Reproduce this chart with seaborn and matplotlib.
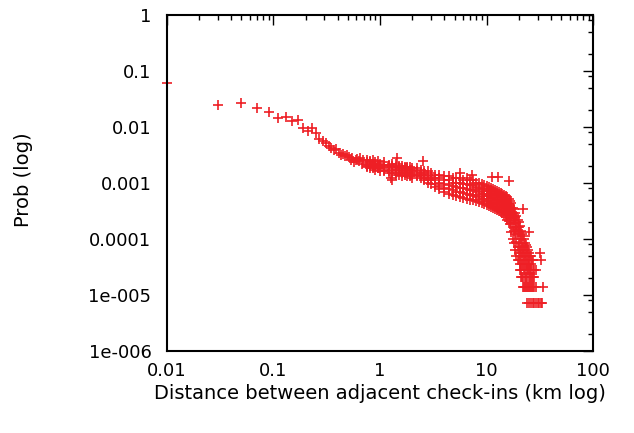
import matplotlib
matplotlib.use("Agg")
import matplotlib.pyplot as plt
import matplotlib.ticker as mticker
import pandas as pd
import seaborn as sns

# short distances, one bin per 0.02 km (km, probability)
head_dist = [0.01, 0.03, 0.05, 0.07, 0.09, 0.11, 0.13, 0.15, 0.17, 0.19, 0.21, 0.23,
             0.25, 0.27, 0.29, 0.31, 0.33, 0.35, 0.37, 0.39, 0.41, 0.43, 0.45, 0.47,
             0.49, 0.51, 0.53, 0.55, 0.57, 0.59, 0.61, 0.63, 0.65, 0.67, 0.69]
head_prob = [0.061, 0.0244, 0.0262, 0.0213, 0.0181, 0.0141, 0.0147, 0.0126, 0.0132, 0.0096,
             0.0085, 0.0094, 0.0078, 0.0060, 0.0056, 0.0051, 0.0046, 0.0042, 0.0038, 0.0040,
             0.0034, 0.0031, 0.0033, 0.0030, 0.0031, 0.0029, 0.0025, 0.0028, 0.0023, 0.0025,
             0.0026, 0.0024, 0.0028, 0.0022, 0.0025]

band_dist = [0.75, 0.8, 0.85, 0.9, 0.95, 1.0, 1.1, 1.2, 1.3, 1.4, 1.5, 1.6, 1.7, 1.8, 1.9,
             2.0, 2.2, 2.4, 2.6, 2.8, 3.0, 3.3, 3.6, 4.0, 4.4, 4.8, 5.2, 5.6, 6.0, 6.5,
             7.0, 7.5, 8.0, 8.5, 9.0, 9.5, 10, 10.5, 11, 11.5, 12, 12.5, 13, 13.5, 14,
             14.5, 15, 15.5, 16, 16.5]
band_top = [0.0025, 0.0024, 0.0025, 0.0023, 0.0024, 0.0022, 0.0023, 0.0021, 0.0022, 0.0022,
            0.0020, 0.0020, 0.0019, 0.0019, 0.0019, 0.0018, 0.0018, 0.0017, 0.0016, 0.0016,
            0.0015, 0.0014, 0.0014, 0.0013, 0.0013, 0.0012, 0.0012, 0.0012, 0.0011, 0.0012,
            0.0011, 0.0011, 0.0010, 0.00099, 0.00095, 0.00091, 0.00087, 0.00084, 0.00080, 0.00077,
            0.00074, 0.00071, 0.00068, 0.00066, 0.00062, 0.00060, 0.00058, 0.00055, 0.00052, 0.00047]
band_upper = [0.0023, 0.0023, 0.0022, 0.0022, 0.0021, 0.0021, 0.0021, 0.0020, 0.0020, 0.0019,
              0.0019, 0.0018, 0.0018, 0.0018, 0.0017, 0.0017, 0.0016, 0.0015, 0.0015, 0.0014,
              0.0013, 0.0012, 0.0012, 0.0011, 0.0011, 0.0010, 0.0010, 0.00098, 0.00093, 0.00096,
              0.00090, 0.00091, 0.00084, 0.00082, 0.00077, 0.00076, 0.00071, 0.00070, 0.00065, 0.00064,
              0.00060, 0.00060, 0.00055, 0.00055, 0.00051, 0.00049, 0.00047, 0.00044, 0.00041, 0.00038]
band_mid = [0.0021, 0.0022, 0.0020, 0.0021, 0.0019, 0.0020, 0.0019, 0.0018, 0.0019, 0.0017,
            0.0018, 0.0017, 0.0016, 0.0017, 0.0015, 0.0016, 0.0015, 0.0014, 0.0014, 0.0012,
            0.0012, 0.0011, 0.0010, 0.00095, 0.00091, 0.00088, 0.00083, 0.00081, 0.00079, 0.00077,
            0.00073, 0.00075, 0.00070, 0.00068, 0.00063, 0.00064, 0.00058, 0.00059, 0.00053, 0.00054,
            0.00049, 0.00050, 0.00045, 0.00046, 0.00042, 0.00040, 0.00038, 0.00035, 0.00032, 0.00030]
band_lower = [0.0020, 0.0020, 0.0019, 0.0019, 0.0018, 0.0018, 0.0017, 0.0016, 0.0017, 0.0015,
              0.0016, 0.0015, 0.0015, 0.0015, 0.0014, 0.0014, 0.0014, 0.0013, 0.0012, 0.0011,
              0.0011, 0.00096, 0.00088, 0.00080, 0.00076, 0.00073, 0.00069, 0.00067, 0.00065, 0.00063,
              0.00060, 0.00061, 0.00057, 0.00055, 0.00052, 0.00051, 0.00048, 0.00047, 0.00044, 0.00043,
              0.00041, 0.00040, 0.00037, 0.00037, 0.00035, 0.00033, 0.00030, 0.00028, 0.00026, 0.00023]
band_low = [0.0019, 0.0018, 0.0018, 0.0017, 0.0018, 0.0016, 0.0016, 0.0015, 0.0015, 0.0014,
            0.0014, 0.0013, 0.0014, 0.0013, 0.0013, 0.0012, 0.0013, 0.0012, 0.0011, 0.0010,
            0.00095, 0.00084, 0.00077, 0.00068, 0.00063, 0.00061, 0.00058, 0.00055, 0.00053, 0.00052,
            0.00050, 0.00049, 0.00047, 0.00045, 0.00043, 0.00041, 0.00040, 0.00038, 0.00037, 0.00035,
            0.00034, 0.00032, 0.00031, 0.00030, 0.00029, 0.00027, 0.00024, 0.00022, 0.00021, 0.00018]

# steep drop past ~17 km
tail_dist = [17, 17, 17, 17, 17,
             17.5, 17.5, 17.5, 17.5, 17.5,
             18, 18, 18, 18, 18,
             18.5, 18.5, 18.5, 18.5, 18.5,
             19, 19, 19, 19, 19,
             19.5, 19.5, 19.5, 19.5, 19.5,
             20, 20, 20, 20, 20, 20,
             20.5, 20.5, 20.5, 20.5, 20.5, 20.5,
             21, 21, 21, 21, 21, 21,
             21.5, 21.5, 21.5, 21.5, 21.5,
             22, 22, 22, 22, 22, 22,
             22.5, 22.5, 22.5, 22.5, 22.5,
             23, 23, 23, 23, 23, 23,
             23.5, 23.5, 23.5, 23.5, 23.5,
             24, 24, 24, 24, 24, 24,
             24.5, 24.5, 24.5, 24.5,
             25, 25, 25, 25, 25, 25,
             25.5, 25.5, 25.5, 25.5,
             26, 26, 26, 26, 26,
             26.5, 26.5, 26.5,
             27, 27, 27, 27,
             28, 28, 28,
             29, 29]
tail_prob = [0.00043, 0.00035, 0.00029, 0.00019, 0.00013,
             0.00036, 0.00029, 0.00023, 0.00016, 0.00010,
             0.00034, 0.00027, 0.00022, 0.00014, 0.000084,
             0.00029, 0.00024, 0.00019, 0.00012, 0.000063,
             0.00025, 0.00019, 0.00015, 0.000087, 0.000049,
             0.00022, 0.00016, 0.00012, 0.000070, 0.000042,
             0.00020, 0.00016, 0.00013, 0.000084, 0.000056, 0.000042,
             0.00017, 0.00011, 0.000070, 0.000049, 0.000035, 0.000028,
             0.00014, 0.000098, 0.000063, 0.000042, 0.000028, 0.000021,
             0.00012, 0.000084, 0.000056, 0.000035, 0.000021,
             0.00011, 0.000070, 0.000049, 0.000035, 0.000021, 0.000014,
             0.000098, 0.000063, 0.000042, 0.000028, 0.000014,
             0.000084, 0.000056, 0.000042, 0.000028, 0.000021, 0.000014,
             0.000077, 0.000049, 0.000035, 0.000021, 0.000014,
             0.000070, 0.000049, 0.000035, 0.000028, 0.000021, 0.000014,
             0.000063, 0.000042, 0.000028, 0.000014,
             0.000056, 0.000042, 0.000035, 0.000028, 0.000021, 0.000014,
             0.000049, 0.000028, 0.000021, 0.000014,
             0.000049, 0.000035, 0.000028, 0.000021, 0.000014,
             0.000042, 0.000021, 0.000014,
             0.000042, 0.000028, 0.000021, 0.000014,
             0.000028, 0.000021, 0.000014,
             0.000028, 0.000014]

# single check-in floor
floor_dist = [24, 25, 26, 27, 28, 29, 30, 31, 32, 33]
floor_prob = [7e-6, 7e-6, 7e-6, 7e-6, 7e-6, 7e-6, 7e-6, 7e-6, 7e-6, 7e-6]

# points sticking out of the cloud
stray_dist = [1.27, 1.3, 1.45, 2.5, 5.6, 7.2, 11.1, 12.8, 16.2, 22, 25, 31.5, 32.5, 34]
stray_prob = [0.00121, 0.00112, 0.00276, 0.00246, 0.00149, 0.00137, 0.00126, 0.00126,
              0.00108, 0.00034, 0.00013, 0.000056, 0.000042, 0.000014]

x_ticks = [0.01, 0.1, 1, 10, 100]
x_labels = ["0.01", "0.1", "1", "10", "100"]
y_ticks = [1e-6, 1e-5, 1e-4, 1e-3, 1e-2, 1e-1, 1]
y_labels = ["1e-006", "1e-005", "0.0001", "0.001", "0.01", "0.1", "1"]

red = "#ee1f25"

dist = head_dist + band_dist * 5 + tail_dist + floor_dist + stray_dist
prob = (head_prob + band_top + band_upper + band_mid + band_lower + band_low
        + tail_prob + floor_prob + stray_prob)
df = pd.DataFrame({"dist": dist, "prob": prob})

sns.set_theme(style="white")
plt.rcParams["font.family"] = ["DejaVu Sans"]

fig = plt.figure(figsize=(6.34, 4.33), dpi=100)
ax = fig.add_axes([0.263, 0.190, 0.673, 0.776])

sns.scatterplot(data=df, x="dist", y="prob", marker="+", s=62, color=red,
                linewidth=1.2, clip_on=False, legend=False, ax=ax)

ax.set_xscale("log")
ax.set_yscale("log")
ax.set_xlim(0.01, 100)
ax.set_ylim(1e-6, 1)
ax.set_xticks(x_ticks, x_labels)
ax.set_yticks(y_ticks, y_labels)
ax.xaxis.set_minor_locator(mticker.LogLocator(base=10, subs=range(2, 10), numticks=100))
ax.yaxis.set_minor_locator(mticker.LogLocator(base=10, subs=(2, 5, 8), numticks=100))
ax.xaxis.set_minor_formatter(mticker.NullFormatter())
ax.yaxis.set_minor_formatter(mticker.NullFormatter())

ax.tick_params(which="both", direction="in", top=True, right=True, color="black", width=1)
ax.tick_params(which="major", length=7, labelsize=13, labelcolor="black")
ax.tick_params(which="minor", length=3.5)
ax.tick_params(axis="x", which="major", pad=8)
ax.tick_params(axis="y", which="major", pad=11)
for sp in ax.spines.values():
    sp.set_linewidth(1.5)
    sp.set_color("black")

ax.set_xlabel("Distance between adjacent check-ins (km log)", fontsize=14, color="black")
ax.set_ylabel("Prob (log)", fontsize=14, color="black")
ax.xaxis.set_label_coords(0.5, -0.10)
ax.yaxis.set_label_coords(-0.313, 0.508)

fig.savefig("out.png", dpi=100)
plt.close(fig)
